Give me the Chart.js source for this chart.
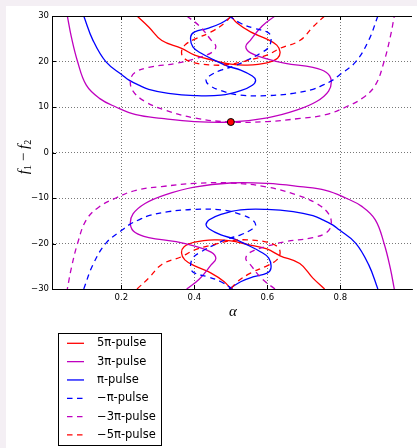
<!DOCTYPE html>
<html>
<head>
<meta charset="utf-8">
<script src="https://cdn.jsdelivr.net/npm/chart.js@4.4.1/dist/chart.umd.min.js"></script>
<style>
  html, body { margin: 0; padding: 0; background: #f4eff4; overflow: hidden; }
  #wrap { position: absolute; left: 0; top: 0; width: 417px; height: 448px; }
</style>
</head>
<body>
<div id="wrap"><canvas id="chart" width="417" height="448"></canvas></div>
<script>
// tick values and legend labels
const xTicks = [0.2, 0.4, 0.6, 0.8];
const yTicks = [-30, -20, -10, 0, 10, 20, 30];
const pulseLabels = ['5π-pulse', '3π-pulse', 'π-pulse', '−π-pulse', '−3π-pulse', '−5π-pulse'];

// curves, [alpha, f1 - f2]
const pulse5Upper = [[0.243,30],[0.275,27.6],[0.311,24.6],[0.365,22.9],[0.401,21.4],[0.455,20.2],[0.500,19.4],[0.545,19.2],[0.599,19.7],[0.628,20.7],[0.635,22.1],[0.626,23.6],[0.599,24.9],[0.554,26.5],[0.518,28.4],[0.500,30]];
const pulse5Lower = [[0.757,-30],[0.725,-27.6],[0.689,-24.4],[0.635,-22.7],[0.599,-21.2],[0.545,-20.2],[0.500,-19.4],[0.455,-19.2],[0.401,-19.7],[0.372,-20.7],[0.365,-22.1],[0.374,-23.6],[0.401,-24.9],[0.446,-26.5],[0.482,-28.4],[0.500,-30]];

const pulse3Upper = [[0.621,30],[0.586,27.8],[0.554,24.7],[0.541,23.3],[0.554,21.9],[0.599,20.6],[0.650,19.6],[0.725,18.7],[0.762,17.6],[0.775,15.9],[0.768,13.5],[0.735,11.2],[0.680,9.3],[0.600,7.6],[0.502,6.7],[0.400,6.8],[0.310,7.5],[0.240,8.3],[0.185,10],[0.140,11.9],[0.104,14.8],[0.080,20],[0.063,25.4],[0.052,30]];
const pulse3Lower = [[0.379,-30],[0.414,-27.8],[0.446,-24.7],[0.459,-23.3],[0.446,-21.9],[0.401,-20.6],[0.350,-19.6],[0.275,-18.7],[0.238,-17.6],[0.225,-15.9],[0.232,-13.5],[0.265,-11.2],[0.320,-9.3],[0.400,-7.6],[0.498,-6.7],[0.600,-6.8],[0.690,-7.5],[0.760,-8.3],[0.815,-10],[0.860,-11.9],[0.896,-14.8],[0.920,-20],[0.937,-25.4],[0.948,-30]];

const pulse1Upper = [[0.505,30],[0.473,28.4],[0.437,27.3],[0.401,26.5],[0.390,25.4],[0.396,23.2],[0.419,21.8],[0.455,20.3],[0.491,19.0],[0.527,18.1],[0.559,16.8],[0.568,15.9],[0.559,14.8],[0.527,13.6],[0.473,12.6],[0.401,12.5],[0.329,13.0],[0.275,13.9],[0.248,14.8],[0.221,15.9],[0.203,17],[0.158,19.9],[0.122,24.7],[0.097,30]];
const pulse1Lower = [[0.495,-30],[0.527,-28.4],[0.563,-27.3],[0.599,-26.5],[0.610,-25.4],[0.604,-23.2],[0.581,-21.8],[0.545,-20.3],[0.509,-19.0],[0.473,-18.1],[0.441,-16.8],[0.432,-15.9],[0.441,-14.8],[0.473,-13.6],[0.527,-12.6],[0.599,-12.5],[0.671,-13.0],[0.725,-13.9],[0.752,-14.8],[0.779,-15.9],[0.797,-17],[0.842,-19.9],[0.878,-24.7],[0.903,-30]];

const minus1Upper = [[0.495,30],[0.527,28.4],[0.563,27.3],[0.599,26.5],[0.610,25.4],[0.604,23.2],[0.581,21.8],[0.545,20.3],[0.509,19.0],[0.473,18.1],[0.441,16.8],[0.432,15.9],[0.441,14.8],[0.473,13.6],[0.527,12.6],[0.599,12.5],[0.671,13.0],[0.725,13.9],[0.752,14.8],[0.779,15.9],[0.797,17],[0.842,19.9],[0.878,24.7],[0.903,30]];
const minus1Lower = [[0.505,-30],[0.473,-28.4],[0.437,-27.3],[0.401,-26.5],[0.390,-25.4],[0.396,-23.2],[0.419,-21.8],[0.455,-20.3],[0.491,-19.0],[0.527,-18.1],[0.559,-16.8],[0.568,-15.9],[0.559,-14.8],[0.527,-13.6],[0.473,-12.6],[0.401,-12.5],[0.329,-13.0],[0.275,-13.9],[0.248,-14.8],[0.221,-15.9],[0.203,-17],[0.158,-19.9],[0.122,-24.7],[0.097,-30]];

const minus3Upper = [[0.379,30],[0.414,27.8],[0.446,24.7],[0.459,23.3],[0.446,21.9],[0.401,20.6],[0.350,19.6],[0.275,18.7],[0.238,17.6],[0.225,15.9],[0.232,13.5],[0.265,11.2],[0.320,9.3],[0.400,7.6],[0.498,6.7],[0.600,6.8],[0.690,7.5],[0.760,8.3],[0.815,10],[0.860,11.9],[0.896,14.8],[0.920,20],[0.937,25.4],[0.948,30]];
const minus3Lower = [[0.621,-30],[0.586,-27.8],[0.554,-24.7],[0.541,-23.3],[0.554,-21.9],[0.599,-20.6],[0.650,-19.6],[0.725,-18.7],[0.762,-17.6],[0.775,-15.9],[0.768,-13.5],[0.735,-11.2],[0.680,-9.3],[0.600,-7.6],[0.502,-6.7],[0.400,-6.8],[0.310,-7.5],[0.240,-8.3],[0.185,-10],[0.140,-11.9],[0.104,-14.8],[0.080,-20],[0.063,-25.4],[0.052,-30]];

const minus5Upper = [[0.757,30],[0.725,27.6],[0.689,24.6],[0.635,22.9],[0.599,21.4],[0.545,20.2],[0.500,19.4],[0.455,19.2],[0.401,19.7],[0.372,20.7],[0.365,22.1],[0.374,23.6],[0.401,24.9],[0.446,26.5],[0.482,28.4],[0.500,30]];
const minus5Lower = [[0.243,-30],[0.275,-27.6],[0.311,-24.6],[0.365,-22.9],[0.401,-21.4],[0.455,-20.2],[0.500,-19.4],[0.545,-19.2],[0.599,-19.7],[0.628,-20.7],[0.635,-22.1],[0.626,-23.6],[0.599,-24.9],[0.554,-26.5],[0.518,-28.4],[0.500,-30]];

const markedPoint = [[0.5, 6.7]];

// styles, same order as labels
const colors = ['#ff0000', '#bf00bf', '#0000ff', '#0000ff', '#bf00bf', '#ff0000'];
const dashes = [[], [], [], [5.5, 4.5], [5.5, 4.5], [5.5, 4.5]];
const parts = [
    [pulse5Upper, pulse5Lower],
    [pulse3Upper, pulse3Lower],
    [pulse1Upper, pulse1Lower],
    [minus1Upper, minus1Lower],
    [minus3Upper, minus3Lower],
    [minus5Upper, minus5Lower]
];

function toPoints(arr) {
    return arr.map(p => ({ x: p[0], y: p[1] }));
}

let datasets = [];
parts.forEach(function (pieces, i) {
    pieces.forEach(function (piece) {
        datasets.push({
            label: pulseLabels[i],
            data: toPoints(piece),
            showLine: true,
            borderColor: colors[i],
            borderWidth: 1.3,
            borderDash: dashes[i],
            pointRadius: 0,
            tension: 0.4,
            fill: false,
            order: 20 - i   // later series on top, like the original
        });
    });
});
datasets.push({
    label: 'marker',
    data: toPoints(markedPoint),
    showLine: false,
    pointRadius: 3.5,
    pointBackgroundColor: '#ff0000',
    pointBorderColor: '#000000',
    pointBorderWidth: 1,
    order: 0
});

function minusSign(v) {
    return v < 0 ? '\u2212' + Math.abs(v) : String(v);
}

// background, frame, inward ticks, titles and legend
const decor = {
    id: 'decor',
    beforeDraw(chart) {
        const ctx = chart.ctx;
        ctx.save();
        ctx.fillStyle = '#f4eff4';
        ctx.fillRect(0, 0, chart.width, chart.height);
        ctx.fillStyle = '#ffffff';
        ctx.fillRect(6, 6, chart.width - 6, chart.height - 6);
        ctx.restore();
    },
    afterDraw(chart) {
        const { ctx, chartArea: a, scales } = chart;
        ctx.save();
        ctx.strokeStyle = '#000';
        ctx.lineWidth = 1;
        ctx.beginPath();
        ctx.moveTo(a.left, a.top + 0.5);
        ctx.lineTo(a.right, a.top + 0.5);
        ctx.stroke();

        ctx.beginPath();
        xTicks.forEach(function (v) {
            const px = Math.round(scales.x.getPixelForValue(v)) + 0.5;
            ctx.moveTo(px, a.bottom);
            ctx.lineTo(px, a.bottom - 4);
            ctx.moveTo(px, a.top);
            ctx.lineTo(px, a.top + 4);
        });
        yTicks.forEach(function (v) {
            const py = Math.round(scales.y.getPixelForValue(v)) + 0.5;
            ctx.moveTo(a.left, py);
            ctx.lineTo(a.left + 4, py);
        });
        ctx.stroke();

        // x title
        ctx.fillStyle = '#000';
        ctx.font = 'italic 15px "Liberation Serif"';
        ctx.textAlign = 'center';
        ctx.textBaseline = 'middle';
        ctx.fillText('α', 233, 312);

        // y title, f1 - f2 with subscripts
        ctx.save();
        ctx.translate(23, 157);
        ctx.rotate(-Math.PI / 2);
        const pieces = [
            ['f', 'italic 15px "Liberation Serif"', 0],
            ['1', '10px "Liberation Serif"', 3],
            [' \u2212 ', '15px "Liberation Serif"', 0],
            ['f', 'italic 15px "Liberation Serif"', 0],
            ['2', '10px "Liberation Serif"', 3]
        ];
        let total = 0;
        pieces.forEach(function (p) { ctx.font = p[1]; total += ctx.measureText(p[0]).width; });
        let cx = -total / 2;
        ctx.textAlign = 'left';
        ctx.textBaseline = 'alphabetic';
        pieces.forEach(function (p) {
            ctx.font = p[1];
            ctx.fillText(p[0], cx, 5 + p[2]);
            cx += ctx.measureText(p[0]).width;
        });
        ctx.restore();

        // legend
        ctx.strokeStyle = '#000';
        ctx.lineWidth = 1;
        ctx.setLineDash([]);
        ctx.strokeRect(58.5, 333.5, 103, 112);
        ctx.font = '11.5px "DejaVu Sans"';
        ctx.textAlign = 'left';
        ctx.textBaseline = 'middle';
        pulseLabels.forEach(function (label, i) {
            const ry = 343.3 + i * 18.33;
            ctx.strokeStyle = colors[i];
            ctx.lineWidth = 1.3;
            ctx.setLineDash(dashes[i]);
            ctx.beginPath();
            ctx.moveTo(67, ry);
            ctx.lineTo(84, ry);
            ctx.stroke();
            ctx.setLineDash([]);
            ctx.fillStyle = '#000';
            ctx.fillText(label, 97, ry);
        });
        ctx.restore();
    }
};

const tickFont = { family: 'DejaVu Sans', size: 8.5 };

new Chart(document.getElementById('chart'), {
    type: 'scatter',
    data: { datasets: datasets },
    options: {
        responsive: false,
        animation: false,
        layout: { padding: { left: 0, top: 16, right: 0, bottom: 0 } },
        plugins: { legend: { display: false }, tooltip: { enabled: false } },
        scales: {
            x: {
                type: 'linear',
                min: 0.010,
                max: 0.9965,
                afterBuildTicks: s => { s.ticks = xTicks.map(v => ({ value: v })); },
                afterFit: s => { s.height = 159; },
                ticks: { font: tickFont, color: '#000', padding: 4, maxRotation: 0, callback: v => v.toFixed(1) },
                grid: { color: '#555', lineWidth: 0.8, drawTicks: false },
                border: { display: true, color: '#000', width: 1, dash: [1, 2] }
            },
            y: {
                min: -30,
                max: 30,
                afterBuildTicks: s => { s.ticks = yTicks.map(v => ({ value: v })); },
                afterFit: s => { s.width = 52; },
                ticks: { font: tickFont, color: '#000', padding: 3, callback: v => minusSign(v) },
                grid: { color: '#555', lineWidth: 0.8, drawTicks: false },
                border: { display: true, color: '#000', width: 1, dash: [1, 2] }
            }
        }
    },
    plugins: [decor]
});
</script>
</body>
</html>
